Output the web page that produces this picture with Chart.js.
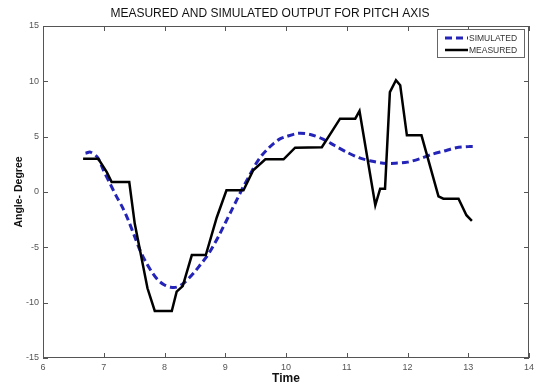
<!DOCTYPE html>
<html lang="en">
<head>
  <meta charset="UTF-8">
  <title>Measured and simulated output for pitch axis</title>
  <script src="https://cdn.jsdelivr.net/npm/chart.js"></script>
  <style>
    html, body { margin: 0; padding: 0; background: #ffffff; }
    #wrap { width: 553px; height: 388px; }
  </style>
</head>
<body>
  <div id="wrap"><canvas id="pitchChart"></canvas></div>

  <script>
    // data
    const simulatedX = [6.7, 6.78, 6.9, 7.0, 7.1, 7.2, 7.3, 7.4, 7.5, 7.6, 7.7, 7.8, 7.9, 8.0, 8.1, 8.2, 8.3, 8.4, 8.5, 8.6, 8.7, 8.8, 8.9, 9.0, 9.1, 9.2, 9.3, 9.4, 9.5, 9.6, 9.7, 9.8, 9.9, 10.0, 10.2, 10.4, 10.6, 10.8, 11.0, 11.2, 11.4, 11.6, 11.8, 12.0, 12.2, 12.4, 12.6, 12.8, 13.0, 13.08];
    const simulatedY = [3.5, 3.6, 3.1, 1.9, 0.8, -0.3, -1.3, -2.5, -3.9, -5.3, -6.4, -7.3, -8.0, -8.4, -8.6, -8.6, -8.3, -7.8, -7.2, -6.5, -5.8, -4.9, -3.9, -2.8, -1.7, -0.6, 0.5, 1.5, 2.5, 3.3, 3.9, 4.4, 4.8, 5.0, 5.3, 5.2, 4.8, 4.2, 3.6, 3.1, 2.8, 2.6, 2.6, 2.7, 3.0, 3.4, 3.7, 4.0, 4.1, 4.1];

    const measuredX = [6.66, 6.91, 7.05, 7.13, 7.42, 7.51, 7.72, 7.84, 8.12, 8.2, 8.3, 8.45, 8.68, 8.86, 9.02, 9.3, 9.46, 9.66, 9.96, 10.15, 10.59, 10.89, 11.14, 11.21, 11.47, 11.55, 11.63, 11.71, 11.81, 11.88, 11.99, 12.23, 12.51, 12.59, 12.84, 12.97, 13.06];
    const measuredY = [3.0, 3.0, 1.8, 0.9, 0.9, -2.85, -8.7, -10.75, -10.75, -9.0, -8.5, -5.7, -5.7, -2.3, 0.15, 0.15, 1.96, 2.95, 2.95, 4.0, 4.05, 6.63, 6.63, 7.32, -1.2, 0.3, 0.3, 9.03, 10.1, 9.64, 5.12, 5.12, -0.4, -0.6, -0.6, -2.1, -2.6];

    const xTicks = [6, 7, 8, 9, 10, 11, 12, 13, 14];
    const yTicks = [-15, -10, -5, 0, 5, 10, 15];

    const toPoints = (xs, ys) => xs.map((x, i) => ({ x: x, y: ys[i] }));

    // matlab-like box, inward ticks, title and legend
    const matlabFrame = {
      id: 'matlabFrame',
      afterDraw(chart) {
        const ctx = chart.ctx;
        const a = chart.chartArea;
        const xs = chart.scales.x;
        const ys = chart.scales.y;
        ctx.save();
        ctx.strokeStyle = '#555555';
        ctx.lineWidth = 1;
        ctx.strokeRect(a.left + 0.5, a.top + 0.5, a.right - a.left - 1, a.bottom - a.top - 1);
        ctx.beginPath();
        xTicks.forEach(v => {
          const px = Math.round(xs.getPixelForValue(v)) + 0.5;
          ctx.moveTo(px, a.bottom); ctx.lineTo(px, a.bottom - 5);
          ctx.moveTo(px, a.top); ctx.lineTo(px, a.top + 5);
        });
        yTicks.forEach(v => {
          const py = Math.round(ys.getPixelForValue(v)) + 0.5;
          ctx.moveTo(a.left, py); ctx.lineTo(a.left + 5, py);
          ctx.moveTo(a.right, py); ctx.lineTo(a.right - 5, py);
        });
        ctx.stroke();

        // title
        ctx.fillStyle = '#111111';
        ctx.font = '12px "Liberation Sans", Arial, sans-serif';
        ctx.textAlign = 'center';
        ctx.textBaseline = 'middle';
        ctx.fillText('MEASURED AND SIMULATED OUTPUT FOR PITCH AXIS', 270, 14);

        // legend
        const lx = 437, ly = 29, lw = 87, lh = 28;
        ctx.fillStyle = '#ffffff';
        ctx.fillRect(lx, ly, lw, lh);
        ctx.strokeStyle = '#666666';
        ctx.strokeRect(lx + 0.5, ly + 0.5, lw, lh);
        ctx.font = '8.5px "Liberation Sans", Arial, sans-serif';
        ctx.textAlign = 'left';
        chart.data.datasets.forEach((ds, i) => {
          const yy = ly + 9 + i * 12;
          ctx.strokeStyle = ds.borderColor;
          ctx.lineWidth = ds.borderWidth;
          ctx.setLineDash(ds.borderDash || []);
          ctx.beginPath();
          ctx.moveTo(445, yy); ctx.lineTo(468, yy);
          ctx.stroke();
          ctx.setLineDash([]);
          ctx.fillStyle = '#333333';
          ctx.fillText(ds.label, 469, yy + 0.5);
        });
        ctx.restore();
      }
    };

    const ctx = document.getElementById('pitchChart').getContext('2d');
    new Chart(ctx, {
      type: 'scatter',
      data: {
        datasets: [{
          label: 'SIMULATED',
          data: toPoints(simulatedX, simulatedY),
          showLine: true,
          borderColor: '#2424b8',
          borderWidth: 3,
          borderDash: [7, 4],
          pointRadius: 0,
          tension: 0.3,
          order: 2
        }, {
          label: 'MEASURED',
          data: toPoints(measuredX, measuredY),
          showLine: true,
          borderColor: '#000000',
          borderWidth: 2.5,
          pointRadius: 0,
          tension: 0,
          order: 1
        }]
      },
      options: {
        responsive: true,
        maintainAspectRatio: false,
        animation: false,
        layout: {
          padding: { left: 0, right: 24, top: 26, bottom: 0 }
        },
        plugins: {
          legend: { display: false },
          title: { display: false },
          tooltip: { enabled: false }
        },
        scales: {
          x: {
            type: 'linear',
            min: 6,
            max: 14,
            afterFit: s => { s.height = 30; },
            afterBuildTicks: s => { s.ticks = xTicks.map(v => ({ value: v })); },
            grid: { display: false, drawTicks: false },
            border: { display: false },
            ticks: {
              color: '#555555',
              font: { size: 9, family: '"Liberation Sans", Arial, sans-serif' },
              padding: 4,
              maxRotation: 0
            },
            title: {
              display: true,
              text: 'Time',
              color: '#111111',
              font: { size: 12, weight: 'bold', family: '"Liberation Sans", Arial, sans-serif' },
              padding: { top: 2, bottom: 2 }
            }
          },
          y: {
            min: -15,
            max: 15,
            afterFit: s => { s.width = 43; },
            afterBuildTicks: s => { s.ticks = yTicks.map(v => ({ value: v })); },
            grid: { display: false, drawTicks: false },
            border: { display: false },
            ticks: {
              color: '#555555',
              font: { size: 9, family: '"Liberation Sans", Arial, sans-serif' },
              padding: 4
            },
            title: {
              display: true,
              text: 'Angle- Degree',
              color: '#111111',
              font: { size: 10.5, weight: 'bold', family: '"Liberation Sans", Arial, sans-serif' },
              padding: { top: 13, bottom: 13 }
            }
          }
        }
      },
      plugins: [matlabFrame]
    });
  </script>
</body>
</html>
